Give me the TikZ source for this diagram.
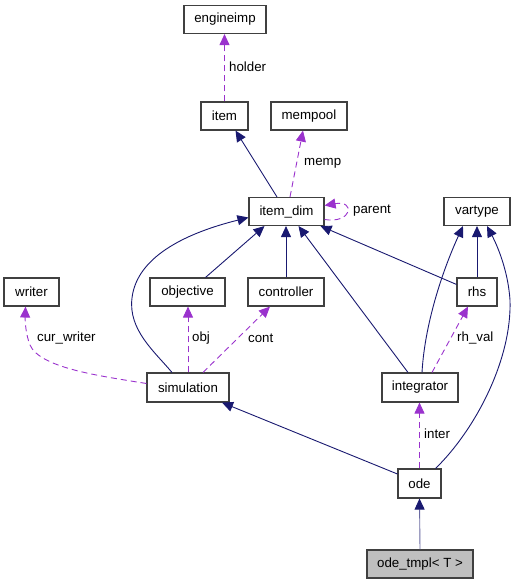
\documentclass[tikz,border=0pt]{standalone}
\usepackage{fontspec}
\setmainfont{Liberation Sans}
\usetikzlibrary{arrows.meta,calc}
\definecolor{navy}{HTML}{191970}
\definecolor{orchid}{HTML}{9A32CD}
\definecolor{boxline}{HTML}{404040}
\begin{document}
\begin{tikzpicture}[x=1pt,y=-1pt,
  font=\fontsize{13.3}{15}\selectfont,
  cls/.style={draw=boxline,line width=1.1pt,fill=white,inner sep=0pt,minimum height=28pt},
  inh/.style={draw=navy,line width=0.9pt,-{Triangle[length=11pt,width=10pt,color=navy]},color=navy},
  use/.style={draw=orchid,line width=0.9pt,dash pattern=on 6pt off 4pt,-{Triangle[length=11pt,width=10pt]},color=orchid},
  lbl/.style={anchor=west,inner sep=0pt,text=black}]
\useasboundingbox (0,0) rectangle (517,584);
% nodes
\node[cls,minimum width=82pt] (engineimp) at (225,19.5) {engineimp};
\node[cls,minimum width=47pt] (item) at (224.5,116) {item};
\node[cls,minimum width=76pt] (mempool) at (309,116) {mempool};
\node[cls,minimum width=75pt] (itemdim) at (286.5,211.5) {item\_dim};
\node[cls,minimum width=66pt] (vartype) at (477,211.5) {vartype};
\node[cls,minimum width=55pt] (writer) at (31.5,292) {writer};
\node[cls,minimum width=75pt] (objective) at (187.5,292) {objective};
\node[cls,minimum width=76pt] (controller) at (286,292) {controller};
\node[cls,minimum width=40pt] (rhs) at (477,292) {rhs};
\node[cls,minimum width=82pt,minimum height=29pt] (simulation) at (188,387.5) {simulation};
\node[cls,minimum width=76pt,minimum height=29pt] (integrator) at (420,387.5) {integrator};
\node[cls,minimum width=43pt,minimum height=29pt] (ode) at (419.5,483.5) {ode};
\node[cls,minimum width=106pt,fill=black!25] (odetmpl) at (420,564) {ode\_tmpl\textless{} T \textgreater};
% inheritance edges
\draw[inh] ($(itemdim.north)+(-9.5,0)$) -- ($(item.south)+(11,0)$);
\draw[inh] ($(simulation.north)+(-16,0)$) .. controls (155,352) and (128,330) .. (132,298)
  .. controls (137,255) and (190,232) .. ($(itemdim.west)+(0,6)$);
\draw[inh] ($(objective.north)+(18,0)$) -- ($(itemdim.south)+(-22,0)$);
\draw[inh] (controller.north) -- (controller.north |- itemdim.south);
\draw[inh] ($(integrator.north)+(-12,0)$) -- ($(itemdim.south)+(12,0)$);
\draw[inh] ($(rhs.north west)+(0,7)$) -- ($(itemdim.south east)+(-4,0)$);
\draw[inh] (rhs.north) -- (vartype.south);
\draw[inh] ($(integrator.north)+(2,0)$) .. controls (425,320) and (445,265) .. ($(vartype.south)+(-14,0)$);
\draw[inh] ($(ode.north east)+(-6,0)$) .. controls (475,430) and (512,360) .. (510,300)
  .. controls (508,270) and (497,245) .. ($(vartype.south)+(10,0)$);
\draw[inh] ($(ode.west)+(0,-9.5)$) -- ($(simulation.south)+(34,0)$);
\draw[inh,draw=navy!65] (odetmpl.north) -- (ode.south);
% usage edges
\draw[use] (item.north) -- (item.north |- engineimp.south);
\node[lbl] (lholder) at (229,67) {holder};
\draw[use] ($(itemdim.north)+(3.5,0)$) -- ($(mempool.south)+(-6,0)$);
\node[lbl] (lmemp) at (304,163) {memp};
\draw[use] ($(itemdim.east)+(0,8)$) .. controls (352,224) and (356,200) .. ($(itemdim.east)+(0,-6)$);
\node[lbl] (lparent) at (353,211) {parent};
\draw[use] ($(simulation.west)+(0,-4)$) .. controls (100,376) and (40,368) .. (30,345)
  .. controls (26,335) and (25,322) .. ($(writer.south)+(-6,0)$);
\node[lbl] (lcw) at (37,338) {cur\_writer};
\draw[use] (simulation.north) -- (simulation.north |- objective.south);
\node[lbl] (lobj) at (192,338) {obj};
\draw[use] ($(simulation.north)+(15,0)$) -- ($(controller.south)+(-16,0)$);
\node[lbl] (lcont) at (248,338) {cont};
\draw[use] ($(integrator.north)+(12,0)$) -- ($(rhs.south)+(-9,0)$);
\node[lbl] (lrh) at (457,338) {rh\_val};
\draw[use] (ode.north) -- (ode.north |- integrator.south);
\node[lbl] (linter) at (424,434) {inter};
\end{tikzpicture}
\end{document}
